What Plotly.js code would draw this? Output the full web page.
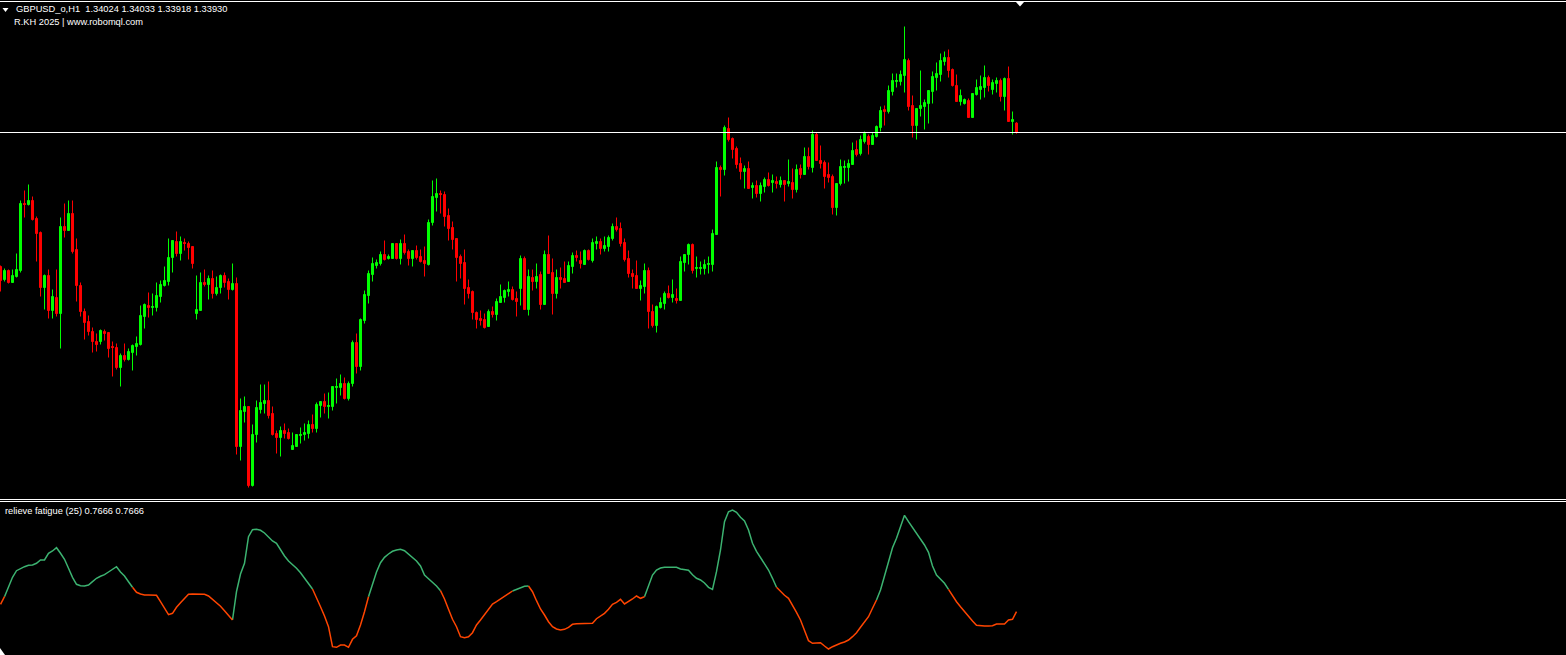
<!DOCTYPE html>
<html><head><meta charset="utf-8">
<script src="https://cdn.plot.ly/plotly-3.0.1.min.js"></script>
<style>html,body{margin:0;padding:0;background:#000;overflow:hidden}#chart{width:1566px;height:655px}</style>
</head><body><div id="chart"></div>
<script>
const symbol = 'GBPUSD_o';
const timeframe = 'H1';
const credit = 'R.KH 2025 | www.robomql.com';
const indicatorName = 'relieve fatigue';
const indicatorPeriod = 25;

const openP = [1.3259,1.3246,1.3255,1.3243,1.3249,1.3255,1.3322,1.3321,1.3325,1.3307,
1.3293,1.3238,1.3250,1.3215,1.3228,1.3212,1.3299,1.3295,1.3312,1.3276,
1.3240,1.3214,1.3204,1.3194,1.3184,1.3184,1.3194,1.3193,1.3179,1.3178,
1.3158,1.3170,1.3166,1.3173,1.3179,1.3181,1.3209,1.3220,1.3218,1.3218,
1.3229,1.3240,1.3244,1.3268,1.3284,1.3272,1.3283,1.3282,1.3279,1.3212,
1.3215,1.3243,1.3241,1.3247,1.3232,1.3238,1.3250,1.3244,1.3236,1.3242,
1.3079,1.3114,1.3119,1.3040,1.3091,1.3116,1.3122,1.3125,1.3112,1.3092,
1.3088,1.3095,1.3093,1.3076,1.3079,1.3090,1.3091,1.3092,1.3101,1.3097,
1.3120,1.3124,1.3119,1.3119,1.3138,1.3138,1.3142,1.3127,1.3142,1.3183,
1.3159,1.3205,1.3230,1.3251,1.3260,1.3262,1.3271,1.3267,1.3267,1.3282,
1.3267,1.3282,1.3274,1.3267,1.3275,1.3269,1.3265,1.3261,1.3303,1.3328,
1.3332,1.3331,1.3310,1.3298,1.3287,1.3269,1.3263,1.3238,1.3234,1.3213,
1.3207,1.3206,1.3199,1.3214,1.3211,1.3223,1.3228,1.3234,1.3236,1.3227,
1.3237,1.3267,1.3216,1.3248,1.3244,1.3251,1.3221,1.3271,1.3253,1.3232,
1.3248,1.3247,1.3244,1.3259,1.3270,1.3265,1.3261,1.3275,1.3265,1.3282,
1.3284,1.3277,1.3279,1.3287,1.3299,1.3297,1.3283,1.3267,1.3252,1.3250,
1.3237,1.3239,1.3255,1.3214,1.3200,1.3218,1.3222,1.3232,1.3228,1.3227,
1.3225,1.3263,1.3271,1.3281,1.3257,1.3257,1.3257,1.3261,1.3261,1.3291,
1.3358,1.3356,1.3397,1.3387,1.3377,1.3362,1.3354,1.3357,1.3338,1.3340,
1.3332,1.3339,1.3346,1.3343,1.3344,1.3341,1.3345,1.3342,1.3343,1.3336,
1.3357,1.3351,1.3369,1.3358,1.3391,1.3365,1.3363,1.3351,1.3349,1.3318,
1.3342,1.3358,1.3358,1.3361,1.3376,1.3372,1.3384,1.3389,1.3381,1.3389,
1.3398,1.3416,1.3414,1.3434,1.3444,1.3444,1.3450,1.3465,1.3420,1.3400,
1.3417,1.3419,1.3422,1.3434,1.3448,1.3451,1.3464,1.3468,1.3456,1.3440,
1.3424,1.3422,1.3425,1.3408,1.3431,1.3436,1.3438,1.3448,1.3436,1.3442,
1.3445,1.3429,1.3447,1.3404,1.34024];

const highP = [1.3260,1.3257,1.3256,1.3256,1.3272,1.3325,1.3335,1.3341,1.3329,1.3309,
1.3294,1.3251,1.3256,1.3236,1.3256,1.3308,1.3322,1.3325,1.3325,1.3287,
1.3243,1.3217,1.3210,1.3198,1.3192,1.3196,1.3196,1.3193,1.3184,1.3182,
1.3172,1.3182,1.3177,1.3181,1.3189,1.3220,1.3222,1.3233,1.3232,1.3243,
1.3245,1.3259,1.3287,1.3285,1.3294,1.3289,1.3287,1.3284,1.3279,1.3250,
1.3253,1.3256,1.3250,1.3255,1.3249,1.3251,1.3253,1.3247,1.3262,1.3248,
1.3127,1.3129,1.3119,1.3101,1.3125,1.3141,1.3141,1.3144,1.3119,1.3095,
1.3099,1.3102,1.3097,1.3093,1.3091,1.3098,1.3102,1.3105,1.3111,1.3123,
1.3124,1.3132,1.3133,1.3139,1.3147,1.3151,1.3148,1.3144,1.3185,1.3192,
1.3207,1.3235,1.3255,1.3268,1.3266,1.3274,1.3285,1.3271,1.3282,1.3282,
1.3286,1.3291,1.3276,1.3275,1.3280,1.3276,1.3279,1.3306,1.3345,1.3347,
1.3335,1.3334,1.3317,1.3304,1.3287,1.3271,1.3276,1.3246,1.3235,1.3214,
1.3215,1.3212,1.3216,1.3219,1.3227,1.3241,1.3236,1.3244,1.3239,1.3234,
1.3270,1.3269,1.3256,1.3256,1.3262,1.3254,1.3275,1.3290,1.3267,1.3256,
1.3258,1.3264,1.3264,1.3273,1.3275,1.3274,1.3276,1.3276,1.3287,1.3289,
1.3287,1.3289,1.3290,1.3302,1.3308,1.3303,1.3287,1.3275,1.3256,1.3265,
1.3245,1.3262,1.3258,1.3221,1.3220,1.3228,1.3234,1.3240,1.3246,1.3237,
1.3269,1.3271,1.3282,1.3282,1.3269,1.3264,1.3266,1.3269,1.3296,1.3364,
1.3360,1.3400,1.3408,1.3388,1.3379,1.3368,1.3360,1.3364,1.3343,1.3345,
1.3343,1.3348,1.3353,1.3351,1.3349,1.3349,1.3345,1.3366,1.3357,1.3361,
1.3361,1.3378,1.3378,1.3395,1.3393,1.3380,1.3365,1.3363,1.3351,1.3342,
1.3366,1.3365,1.3366,1.3383,1.3385,1.3390,1.3394,1.3391,1.3393,1.3400,
1.3419,1.3420,1.3440,1.3452,1.3452,1.3455,1.3499,1.3467,1.3430,1.3417,
1.3455,1.3426,1.3435,1.3454,1.3463,1.3472,1.3474,1.3476,1.3457,1.3451,
1.3436,1.3427,1.3427,1.3432,1.3446,1.3450,1.3460,1.3450,1.3446,1.3448,
1.3447,1.3448,1.3459,1.3414,1.34033];

const lowP = [1.3234,1.3244,1.3242,1.3243,1.3248,1.3253,1.3308,1.3320,1.3305,1.3264,
1.3229,1.3216,1.3207,1.3207,1.3209,1.3177,1.3288,1.3295,1.3272,1.3224,
1.3209,1.3186,1.3190,1.3173,1.3174,1.3181,1.3185,1.3168,1.3149,1.3156,
1.3139,1.3164,1.3165,1.3155,1.3170,1.3180,1.3197,1.3208,1.3210,1.3214,
1.3223,1.3239,1.3240,1.3253,1.3269,1.3265,1.3275,1.3266,1.3257,1.3206,
1.3215,1.3239,1.3226,1.3227,1.3230,1.3232,1.3238,1.3226,1.3235,1.3071,
1.3065,1.3103,1.3038,1.3039,1.3083,1.3112,1.3112,1.3107,1.3090,1.3072,
1.3069,1.3087,1.3086,1.3076,1.3079,1.3082,1.3085,1.3087,1.3093,1.3093,
1.3108,1.3112,1.3107,1.3115,1.3122,1.3130,1.3126,1.3125,1.3139,1.3152,
1.3155,1.3202,1.3222,1.3244,1.3257,1.3260,1.3265,1.3266,1.3267,1.3266,
1.3261,1.3271,1.3260,1.3259,1.3266,1.3263,1.3249,1.3260,1.3300,1.3314,
1.3312,1.3299,1.3285,1.3276,1.3244,1.3247,1.3221,1.3227,1.3206,1.3197,
1.3200,1.3197,1.3199,1.3208,1.3205,1.3223,1.3223,1.3229,1.3225,1.3209,
1.3220,1.3216,1.3210,1.3235,1.3237,1.3216,1.3221,1.3252,1.3211,1.3227,
1.3237,1.3243,1.3244,1.3252,1.3264,1.3257,1.3261,1.3265,1.3263,1.3276,
1.3271,1.3274,1.3274,1.3285,1.3294,1.3279,1.3264,1.3248,1.3237,1.3237,
1.3225,1.3232,1.3197,1.3198,1.3193,1.3217,1.3216,1.3227,1.3223,1.3222,
1.3225,1.3254,1.3261,1.3252,1.3248,1.3251,1.3251,1.3252,1.3254,1.3291,
1.3329,1.3350,1.3384,1.3367,1.3357,1.3346,1.3337,1.3337,1.3327,1.3328,
1.3324,1.3333,1.3339,1.3333,1.3337,1.3338,1.3324,1.3339,1.3327,1.3333,
1.3347,1.3351,1.3356,1.3353,1.3365,1.3357,1.3337,1.3343,1.3311,1.3310,
1.3340,1.3342,1.3344,1.3361,1.3369,1.3370,1.3382,1.3371,1.3381,1.3388,
1.3394,1.3400,1.3412,1.3430,1.3438,1.3440,1.3433,1.3415,1.3388,1.3386,
1.3409,1.3396,1.3402,1.3422,1.3435,1.3444,1.3460,1.3448,1.3439,1.3424,
1.3420,1.3421,1.3408,1.3408,1.3430,1.3426,1.3428,1.3434,1.3431,1.3433,
1.3424,1.3415,1.3404,1.3391,1.33918];

const closeP = [1.3245,1.3255,1.3243,1.3250,1.3256,1.3322,1.3321,1.3325,1.3306,1.3292,
1.3238,1.3250,1.3215,1.3229,1.3212,1.3299,1.3295,1.3312,1.3274,1.3240,
1.3214,1.3203,1.3194,1.3184,1.3181,1.3195,1.3192,1.3177,1.3178,1.3158,
1.3170,1.3166,1.3174,1.3180,1.3182,1.3210,1.3221,1.3218,1.3219,1.3230,
1.3241,1.3245,1.3268,1.3285,1.3272,1.3284,1.3282,1.3278,1.3262,1.3216,
1.3243,1.3241,1.3247,1.3232,1.3238,1.3250,1.3243,1.3236,1.3242,1.3079,
1.3115,1.3119,1.3040,1.3091,1.3118,1.3123,1.3125,1.3110,1.3091,1.3088,
1.3095,1.3092,1.3087,1.3080,1.3091,1.3091,1.3093,1.3101,1.3097,1.3121,
1.3124,1.3119,1.3120,1.3139,1.3139,1.3142,1.3127,1.3142,1.3183,1.3159,
1.3206,1.3231,1.3252,1.3262,1.3263,1.3271,1.3266,1.3269,1.3282,1.3267,
1.3282,1.3273,1.3267,1.3275,1.3268,1.3264,1.3262,1.3303,1.3329,1.3332,
1.3331,1.3309,1.3297,1.3286,1.3268,1.3262,1.3237,1.3232,1.3213,1.3206,
1.3205,1.3198,1.3214,1.3211,1.3224,1.3229,1.3235,1.3236,1.3226,1.3224,
1.3267,1.3216,1.3249,1.3244,1.3249,1.3221,1.3271,1.3252,1.3232,1.3248,
1.3246,1.3243,1.3260,1.3270,1.3268,1.3262,1.3275,1.3266,1.3283,1.3284,
1.3277,1.3280,1.3288,1.3299,1.3296,1.3282,1.3266,1.3252,1.3249,1.3237,
1.3240,1.3255,1.3214,1.3200,1.3219,1.3223,1.3232,1.3228,1.3231,1.3225,
1.3264,1.3271,1.3281,1.3255,1.3258,1.3258,1.3261,1.3262,1.3292,1.3358,
1.3356,1.3398,1.3386,1.3376,1.3361,1.3354,1.3357,1.3337,1.3340,1.3332,
1.3340,1.3346,1.3340,1.3345,1.3342,1.3345,1.3341,1.3344,1.3336,1.3356,
1.3351,1.3369,1.3359,1.3391,1.3365,1.3362,1.3349,1.3348,1.3318,1.3342,
1.3359,1.3359,1.3362,1.3375,1.3371,1.3386,1.3392,1.3381,1.3390,1.3399,
1.3415,1.3414,1.3435,1.3445,1.3445,1.3451,1.3466,1.3419,1.3400,1.3417,
1.3420,1.3423,1.3435,1.3449,1.3452,1.3465,1.3468,1.3455,1.3440,1.3424,
1.3430,1.3426,1.3408,1.3432,1.3438,1.3439,1.3448,1.3440,1.3443,1.3445,
1.3429,1.3447,1.3404,1.3406,1.33930];

const fatigue = [0.8035,0.8415,0.8915,0.9385,0.9715,0.9835,0.9915,0.9985,1.0000,1.0085,
1.025,1.025,1.0585,1.07,1.0865,1.0585,1.0285,0.9835,0.9385,0.9035,
0.8965,0.895,0.9,0.9165,0.9335,0.9435,0.9515,0.965,0.9765,0.9915,
0.965,0.945,0.9165,0.8885,0.8635,0.855,0.85,0.85,0.85,0.8485,
0.8165,0.7835,0.7515,0.7585,0.7885,0.8115,0.8335,0.8535,0.855,0.855,
0.855,0.8535,0.845,0.8285,0.8135,0.7935,0.7715,0.75,0.725,0.8665,
0.955,1.0085,1.1415,1.1765,1.1785,1.1735,1.16,1.1385,1.12,1.1085,
1.075,1.045,1.02,1.0035,0.9835,0.9615,0.935,0.9085,0.88,0.8385,
0.7915,0.745,0.6915,0.5915,0.5885,0.6,0.6,0.5885,0.6285,0.6465,
0.7,0.7665,0.8415,0.9085,0.965,1.0115,1.0385,1.055,1.0685,1.075,
1.0785,1.0715,1.055,1.0365,1.02,0.995,0.95,0.9315,0.915,0.895,
0.8715,0.83,0.7785,0.7285,0.6915,0.6415,0.6365,0.6415,0.6615,0.7,
0.725,0.7515,0.7815,0.805,0.8165,0.83,0.8415,0.855,0.87,0.8785,
0.8865,0.8935,0.895,0.8665,0.8215,0.78,0.75,0.7165,0.6915,0.68,
0.675,0.6785,0.6885,0.7035,0.7065,0.7065,0.705,0.705,0.7085,0.7315,
0.745,0.7585,0.7785,0.8035,0.8135,0.8285,0.805,0.8165,0.83,0.845,
0.8335,0.8415,0.9,0.95,0.975,0.985,0.9885,0.9885,0.99,0.9885,
0.98,0.975,0.9735,0.9515,0.9335,0.925,0.91,0.8885,0.8785,0.9665,
1.075,1.2165,1.2665,1.275,1.2635,1.2385,1.22,1.175,1.1085,1.0685,
1.0385,1.0115,0.975,0.9335,0.8885,0.8665,0.8485,0.8335,0.8,0.7635,
0.725,0.675,0.6215,0.6085,0.6085,0.6115,0.595,0.58,0.5915,0.6015,
0.6085,0.615,0.625,0.6415,0.6615,0.6885,0.7165,0.7415,0.7835,0.825,
0.875,0.945,1.0165,1.0865,1.1335,1.1885,1.2485,1.2165,1.1885,1.1615,
1.1335,1.1,1.0635,0.995,0.95,0.9315,0.9085,0.8785,0.845,0.8165,
0.7915,0.7665,0.7415,0.72,0.6985,0.695,0.695,0.695,0.6965,0.705,
0.705,0.705,0.725,0.7285,0.7666];

// colour state of each line segment (bar k -> bar k+1): [first bar, +1 rising buffer / -1 falling buffer]
const fatigueRuns = [[0,-1],[1,1],[33,-1],[58,1],[78,-1],[92,1],[110,-1],[128,1],[132,-1],[161,1],[194,-1],[219,1],[237,-1]];

// ---- build ----
const W = 1566, H = 655;
const n = closeP.length;
const bars = closeP.map((_, i) => i);
const segState = new Array(n).fill(0);
fatigueRuns.forEach(([s, v], k) => {
  const e = k + 1 < fatigueRuns.length ? fatigueRuns[k + 1][0] : n;
  for (let i = s; i < e; i++) segState[i] = v;
});
const pick = st => fatigue.map((v, i) =>
  (i < n - 1 && segState[i] === st) || (i > 0 && segState[i - 1] === st) ? v : null);
const upLine = pick(1), dnLine = pick(-1);

const py = p => 1 - p / H;        // pixel row -> paper
const px = p => p / W;            // pixel col -> paper

const last = n - 1;
const fmt = v => v.toFixed(5);
const headerText = symbol + ',' + timeframe + '\u00A0\u00A0' +
  [openP[last], highP[last], lowP[last], closeP[last]].map(fmt).join(' ');
const indLabel = indicatorName + ' (' + indicatorPeriod + ') ' +
  fatigue[last].toFixed(4) + ' ' + fatigue[last].toFixed(4);

const font = {family: '"Liberation Sans", Arial, sans-serif', size: 9.3, color: '#FFFFFF'};

const traces = [
  {
    type: 'candlestick', x: bars, open: openP, high: highP, low: lowP, close: closeP,
    xaxis: 'x', yaxis: 'y',
    increasing: {line: {color: '#00FF00', width: 1}, fillcolor: '#00FF00'},
    decreasing: {line: {color: '#FF0000', width: 1}, fillcolor: '#FF0000'},
    whiskerwidth: 0, hoverinfo: 'none', showlegend: false
  },
  {type: 'scatter', mode: 'lines', x: bars, y: upLine, xaxis: 'x', yaxis: 'y2',
   line: {color: '#3CB371', width: 1.5}, connectgaps: false, hoverinfo: 'none', showlegend: false},
  {type: 'scatter', mode: 'lines', x: bars, y: dnLine, xaxis: 'x', yaxis: 'y2',
   line: {color: '#FF4500', width: 1.5}, connectgaps: false, hoverinfo: 'none', showlegend: false}
];

const hidden = {showgrid: false, zeroline: false, showticklabels: false, showline: false, ticks: '', fixedrange: true};
const tri = pts => 'M ' + pts.map(p => px(p[0]) + ' ' + py(p[1])).join(' L ') + ' Z';

const layout = {
  width: W, height: H,
  margin: {l: 0, r: 0, t: 0, b: 0, pad: 0},
  paper_bgcolor: '#000000', plot_bgcolor: '#000000',
  showlegend: false,
  boxgap: 0.5, boxgroupgap: 0,
  xaxis: Object.assign({range: [-0.125, 391.375], rangeslider: {visible: false}}, hidden),
  yaxis: Object.assign({domain: [py(499), py(1)], range: [1.30265, 1.35245]}, hidden),
  yaxis2: Object.assign({domain: [0, py(501)], range: [0.55, 1.32]}, hidden),
  shapes: [
    {type: 'line', xref: 'paper', yref: 'paper', x0: 0, x1: 1, y0: py(1.5), y1: py(1.5), line: {color: '#FFFFFF', width: 1}},
    {type: 'line', xref: 'paper', yref: 'paper', x0: 0, x1: 1, y0: py(499.5), y1: py(499.5), line: {color: '#FFFFFF', width: 1}},
    {type: 'line', xref: 'paper', yref: 'paper', x0: 0, x1: 1, y0: py(501.5), y1: py(501.5), line: {color: '#FFFFFF', width: 1}},
    {type: 'line', xref: 'paper', yref: 'y', x0: 0, x1: 1, y0: closeP[last], y1: closeP[last], line: {color: '#FFFFFF', width: 1}},
    {type: 'path', xref: 'paper', yref: 'paper', path: tri([[1015.5, 1.5], [1024.5, 1.5], [1020, 6.5]]), fillcolor: '#FFFFFF', line: {width: 0}},
    {type: 'path', xref: 'paper', yref: 'paper', path: tri([[2.5, 8], [8.5, 8], [5.5, 12]]), fillcolor: '#FFFFFF', line: {width: 0}},
    {type: 'path', xref: 'paper', yref: 'paper', path: tri([[0, 648], [0, 655], [5, 655]]), fillcolor: '#FFFFFF', line: {width: 0}}
  ],
  annotations: [
    {xref: 'paper', yref: 'paper', x: px(14), y: py(9), xanchor: 'left', yanchor: 'middle', showarrow: false, text: headerText, font: font},
    {xref: 'paper', yref: 'paper', x: px(12), y: py(22), xanchor: 'left', yanchor: 'middle', showarrow: false, text: credit, font: font},
    {xref: 'paper', yref: 'paper', x: px(3), y: py(511), xanchor: 'left', yanchor: 'middle', showarrow: false, text: indLabel, font: font}
  ]
};

Plotly.newPlot('chart', traces, layout, {staticPlot: true, displayModeBar: false});
</script>
</body></html>
